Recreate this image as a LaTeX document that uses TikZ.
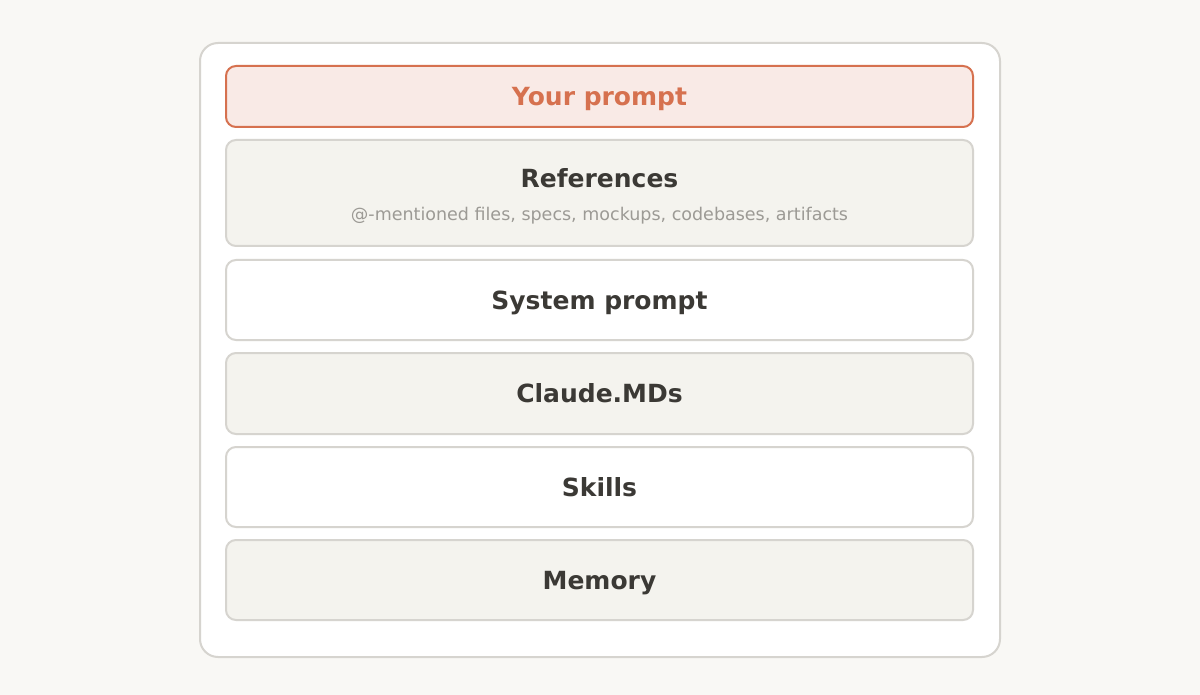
\documentclass[tikz,border=0pt]{standalone}
\usepackage{fontspec}
\setmainfont{DejaVu Sans}
\usetikzlibrary{positioning}
\definecolor{pagebg}{HTML}{F9F8F5}
\definecolor{panelline}{HTML}{D6D4CF}
\definecolor{beigefill}{HTML}{F4F3EE}
\definecolor{promptfill}{HTML}{F9EAE6}
\definecolor{promptline}{HTML}{D6714F}
\definecolor{darktext}{HTML}{3B3935}
\definecolor{greytext}{HTML}{9C9A95}

\begin{document}
\begin{tikzpicture}[x=1pt, y=-1pt,
        title/.style={text=darktext, text height=18pt, text depth=0pt,
            font=\fontsize{25}{30}\selectfont\bfseries},
        layer/.style={title, rectangle, draw=panelline, line width=2pt, rounded corners=10pt,
            minimum width=747pt, inner sep=0pt},
        beige/.style={layer, fill=beigefill},
        plain/.style={layer, fill=white},
        prompt/.style={layer, draw=promptline, fill=promptfill, text=promptline}
    ]
        % Page
        \useasboundingbox[fill=pagebg] (0,0) rectangle (1200,695);

        % Outer panel
        \draw[panelline, line width=2pt, fill=white, rounded corners=18pt] (200,43) rectangle (1000,657);

        % Layers
        \node[prompt, minimum height=61pt] (prompt) at (599.5,96.5) {Your prompt};
        \node[beige, minimum height=106pt] (refs) at (599.5,193) {};
        \node[title] (refstitle) at (599.5,178.5) {References};
        \node[text=greytext, text height=12.8pt, text depth=0pt,
            font=\fontsize{17.5}{21}\selectfont] (refssub) at (599.5,214) {@-mentioned files, specs, mockups, codebases, artifacts};
        \node[plain, minimum height=80pt] (system) at (599.5,300) {System prompt};
        \node[beige, minimum height=81pt] (claude) at (599.5,393.5) {Claude.MDs};
        \node[plain, minimum height=80pt] (skills) at (599.5,487) {Skills};
        \node[beige, minimum height=80pt] (memory) at (599.5,580) {Memory};
    \end{tikzpicture}
\end{document}
